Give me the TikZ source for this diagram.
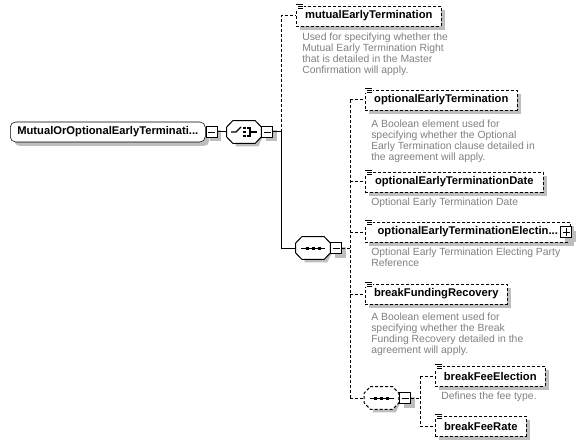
\documentclass[tikz,border=0pt]{standalone}
\usepackage{fontspec}
\setmainfont{Liberation Sans}
\usetikzlibrary{calc,shadows}
\definecolor{desc}{RGB}{128,128,128}
\definecolor{shad}{RGB}{190,190,190}
\tikzset{
  shd/.style={drop shadow={shadow xshift=3pt,shadow yshift=-3pt,fill=shad,opacity=1}},
  elemfont/.style={font=\fontsize{8.4}{10}\selectfont\bfseries},
  dsh/.style={dash pattern=on 2.25pt off 1.5pt},
  elem/.style={draw,dsh,fill=white,shd,elemfont,minimum height=15pt,inner sep=0pt,anchor=west},
  rootbox/.style={draw,fill=white,shd,elemfont,minimum height=15pt,inner sep=0pt,anchor=west,rounded corners=4pt},
  mbox/.style={draw,fill=white,shd,minimum size=8.25pt,inner sep=0pt},
  octo/.style={minimum width=25.5pt,minimum height=16.5pt,inner sep=0pt},
  descr/.style={anchor=north west,inner sep=0pt,align=left,text=desc,font=\fontsize{7.8}{8.25}\selectfont},
  conn/.style={line width=0.75pt},
  dconn/.style={line width=0.75pt,dsh}
}
\newcommand{\docicon}[1]{%
  \fill[white] ($(#1.north west)+(-1,-2.5)$) rectangle ++(9,6);
  \draw[line width=0.6pt] ($(#1.north west)+(1,-1.5)$) -- ++(6,0);
  \draw[line width=0.6pt] ($(#1.north west)+(2,0.5)$) -- ++(5,0);
  \draw[line width=0.6pt] ($(#1.north west)+(2,2.5)$) -- ++(5,0);
  \draw[line width=0.6pt] ($(#1.north west)+(0,-2)$) -- ++(0,1);
}
\newcommand{\octshape}[2]{% node, style
  \fill[shad] ($(#1.north west)+(9,3)$) -- ($(#1.north east)+(-3,3)$) -- ($(#1.east)+(3,-2)$) -- ($(#1.east)+(3,2)$) -- ($(#1.south east)+(-3,3)$) -- ($(#1.south west)+(9,3)$) -- cycle;
  \draw[fill=white,#2] ($(#1.north west)+(6,0)$) -- ($(#1.north east)+(-6,0)$) -- ($(#1.east)+(0,-5)$) -- ($(#1.east)+(0,5)$) -- ($(#1.south east)+(-6,0)$) -- ($(#1.south west)+(6,0)$) -- ($(#1.west)+(0,5)$) -- ($(#1.west)+(0,-5)$) -- cycle;
}
\newcommand{\seqicon}[1]{% center node
  \draw[line width=0.6pt] ($(#1.center)+(-12,0)$) -- ($(#1.center)+(12,0)$);
  \fill ($(#1.center)+(-7.5,-1.5)$) rectangle ++(3,3);
  \fill ($(#1.center)+(-1.5,-1.5)$) rectangle ++(3,3);
  \fill ($(#1.center)+(4.5,-1.5)$) rectangle ++(3,3);
}
\begin{document}
\begin{tikzpicture}[x=0.75pt,y=-0.75pt]
\useasboundingbox (0,0) rectangle (581,445);

% root
\node[rootbox,minimum width=146.25pt] (root) at (10,132) {MutualOrOptionalEarlyTerminati...};
\node[mbox] (rm) at (211.5,132) {};
\draw ($(rm.center)+(-3.5,0)$) -- ($(rm.center)+(3.5,0)$);

% choice
\node[octo] (ch) at (244,132) {};
\octshape{ch}{line width=0.75pt}
\draw[line width=0.8pt] (231,132) -- (236,132) -- (241,127);
\fill (243,127) rectangle ++(2.5,2.5);
\fill (243,131) rectangle ++(2.5,2.5);
\fill (243,135) rectangle ++(2.5,2.5);
\draw[line width=0.8pt] (247,128) -- (250,128) -- (250,136) -- (247,136);
\draw[line width=0.8pt] (250,132) -- (257,132);
\node[mbox] (cm) at (267,132) {};
\draw ($(cm.center)+(-3.5,0)$) -- ($(cm.center)+(3.5,0)$);
\draw[conn] (rm.east) -- (ch.west);

\coordinate (v1) at (281,132);
\coordinate (v1t) at (281,16);
\coordinate (v1b) at (281,248);
\draw[conn] (cm.east) -- (v1);

% mutualEarlyTermination
\node[elem,minimum width=108.75pt] (met) at (296,16) {mutualEarlyTermination};
\docicon{met}
\draw[dconn] (v1) -- (v1t) -- (met.west);
\node[descr] (d1) at (302,33) {Used for specifying whether the\\Mutual Early Termination Right\\that is detailed in the Master\\Confirmation will apply.};

% sequence
\node[octo] (seq) at (313,248) {};
\octshape{seq}{line width=0.75pt}
\seqicon{seq}
\draw[conn] (v1) -- (v1b) -- (seq.west);
\node[mbox] (sm) at (336,248) {};
\draw ($(sm.center)+(-3.5,0)$) -- ($(sm.center)+(3.5,0)$);

\coordinate (v2t) at (350,100);
\coordinate (v2b) at (350,398);
\coordinate (v2m) at (350,248);
\draw[dconn] (sm.east) -- (v2m);
\draw[dconn] (v2t) -- (v2b);

% children
\node[elem,minimum width=114pt] (oet) at (365,100) {optionalEarlyTermination};
\docicon{oet}
\draw[dconn] (v2t) -- (oet.west);
\node[descr] (d2) at (371,120) {A Boolean element used for\\specifying whether the Optional\\Early Termination clause detailed in\\the agreement will apply.};

\node[elem,minimum width=133.5pt] (oetd) at (365,182) {optionalEarlyTerminationDate};
\docicon{oetd}
\draw[dconn] (oetd.west -| v2t) -- (oetd.west);
\node[descr] (d3) at (371,198) {Optional Early Termination Date};

\node[elem,minimum width=153.75pt] (oete) at (365,232) {optionalEarlyTerminationElectin...\hspace{10pt}};
\docicon{oete}
\draw[dconn] (oete.west -| v2t) -- (oete.west);
\node[mbox] (pe) at (566,232) {};
\draw ($(pe.center)+(-3.5,0)$) -- ($(pe.center)+(3.5,0)$);
\draw ($(pe.center)+(0,-3.5)$) -- ($(pe.center)+(0,3.5)$);
\node[descr] (d4) at (371,248) {Optional Early Termination Electing Party\\Reference};

\node[elem,minimum width=106.5pt] (bfr) at (365,294) {breakFundingRecovery};
\docicon{bfr}
\draw[dconn] (bfr.west -| v2t) -- (bfr.west);
\node[descr] (d5) at (371,313) {A Boolean element used for\\specifying whether the Break\\Funding Recovery detailed in the\\agreement will apply.};

% inner sequence
\node[octo] (seq2) at (381.5,398) {};
\octshape{seq2}{line width=0.75pt,dsh}
\seqicon{seq2}
\draw[dconn] (v2b) -- (seq2.west);
\node[mbox] (s2m) at (405,398) {};
\draw ($(s2m.center)+(-3.5,0)$) -- ($(s2m.center)+(3.5,0)$);
\coordinate (v3m) at (420,398);
\coordinate (v3t) at (420,376);
\coordinate (v3b) at (420,426);
\draw[dconn] (s2m.east) -- (v3m);
\draw[dconn] (v3t) -- (v3b);

\node[elem,minimum width=82.5pt] (bfe) at (435,376) {breakFeeElection};
\docicon{bfe}
\draw[dconn] (v3t) -- (bfe.west);
\node[descr] (d6) at (441,392) {Defines the fee type.};

\node[elem,minimum width=68.25pt] (bfrt) at (435,426) {breakFeeRate};
\docicon{bfrt}
\draw[dconn] (v3b) -- (bfrt.west);
\end{tikzpicture}
\end{document}
